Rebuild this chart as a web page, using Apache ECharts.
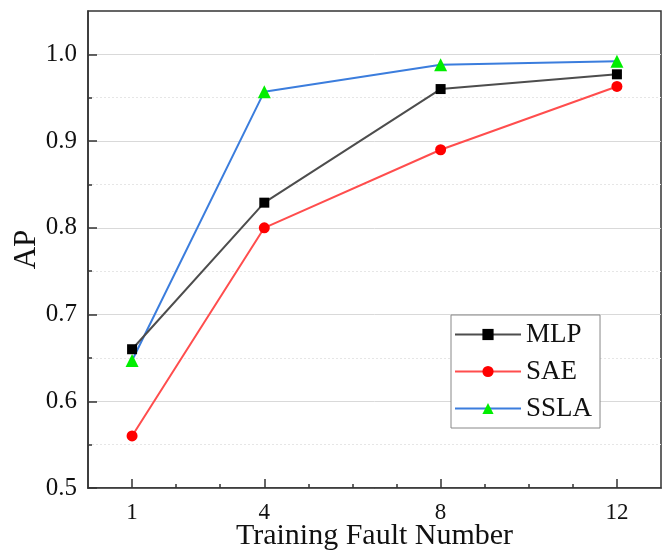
<!DOCTYPE html>
<html>
<head>
<meta charset="utf-8">
<script src="https://cdn.jsdelivr.net/npm/echarts@6/dist/echarts.min.js"></script>
<style>
html,body{margin:0;padding:0;background:#fff;}
#chart{width:667px;height:554px;}
</style>
</head>
<body>
<div id="chart"></div>
<script>
const xValues = [1, 4, 8, 12];
const mlp = [0.660, 0.829, 0.960, 0.977];
const sae = [0.560, 0.800, 0.890, 0.963];
const ssla = [0.647, 0.957, 0.988, 0.992];
const xMajorTicks = [1, 4, 8, 12];
const xMinorTicks = [2, 3, 5, 6, 7, 9, 10, 11];
const yTicks = [0.5, 0.6, 0.7, 0.8, 0.9, 1.0];

const FONT = '"Liberation Serif", "Times New Roman", serif';
function pairs(arr){ return xValues.map((x,i)=>[x, arr[i]]); }

const chart = echarts.init(document.getElementById('chart'), null, {renderer:'canvas'});
chart.setOption({
  animation: false,
  backgroundColor: '#fff',
  grid: {left: 88, top: 11, right: 6, bottom: 66, show: true, borderColor: '#333', borderWidth: 1.5,
    containLabel: false, outerBoundsMode: 'none'},
  xAxis: [{
    type: 'value', min: 0, max: 13, interval: 1,
    name: 'Training Fault Number', nameLocation: 'middle', nameGap: 33, nameMoveOverlap: false,
    nameTextStyle: {fontFamily: FONT, fontSize: 30, color: '#111'},
    axisLine: {show: true, lineStyle: {color: '#333', width: 1.5}},
    axisTick: {show: true, inside: true, length: 9, customValues: xMajorTicks, lineStyle: {color: '#333', width: 1.5}},
    axisLabel: {show: true, customValues: xMajorTicks, margin: 13, fontFamily: FONT, fontSize: 23, color: '#111'},
    splitLine: {show: false}
  },{
    type: 'value', min: 0, max: 13, interval: 1, position: 'bottom',
    axisLine: {show: false},
    axisTick: {show: true, inside: true, length: 4, customValues: xMinorTicks, lineStyle: {color: '#333', width: 1.5}},
    axisLabel: {show: false},
    splitLine: {show: false}
  }],
  yAxis: {
    type: 'value', min: 0.5, max: 1.05, interval: 0.1,
    name: 'AP', nameLocation: 'middle', nameGap: 46, nameMoveOverlap: false,
    nameTextStyle: {fontFamily: FONT, fontSize: 31, color: '#111'},
    axisLine: {show: true, lineStyle: {color: '#333', width: 1.5}},
    axisTick: {show: true, inside: true, length: 9, customValues: yTicks, lineStyle: {color: '#333', width: 1.5}},
    minorTick: {show: true, splitNumber: 2, length: 4, lineStyle: {color: '#333', width: 1.5}},
    axisLabel: {customValues: yTicks, margin: 11, fontFamily: FONT, fontSize: 25, color: '#111',
      formatter: v => v.toFixed(1)},
    splitLine: {show: true, lineStyle: {color: '#d9d9d9', width: 1}},
    minorSplitLine: {show: true, lineStyle: {color: '#e6e6e6', width: 1, type: [2, 2]}}
  },
  legend: {
    orient: 'vertical', left: 451, top: 315,
    padding: [6, 8, 6, 3],
    itemWidth: 66, itemHeight: 14, itemGap: 10,
    backgroundColor: '#fff', borderColor: '#888', borderWidth: 1, borderRadius: 0,
    textStyle: {fontFamily: FONT, fontSize: 27, color: '#111', lineHeight: 27},
    data: ['MLP', 'SAE', 'SSLA']
  },
  series: [
    {name: 'MLP', type: 'line', data: pairs(mlp), symbol: 'rect', symbolSize: 10,
      lineStyle: {color: '#4d4d4d', width: 2}, itemStyle: {color: '#000'}, z: 3},
    {name: 'SAE', type: 'line', data: pairs(sae), symbol: 'circle', symbolSize: 11,
      lineStyle: {color: '#ff4d4d', width: 2}, itemStyle: {color: '#ff0000'}, z: 2},
    {name: 'SSLA', type: 'line', data: pairs(ssla), symbol: 'triangle', symbolSize: 13,
      lineStyle: {color: '#3b7ddd', width: 2}, itemStyle: {color: '#00ee00'}, z: 2}
  ]
});
</script>
</body>
</html>
